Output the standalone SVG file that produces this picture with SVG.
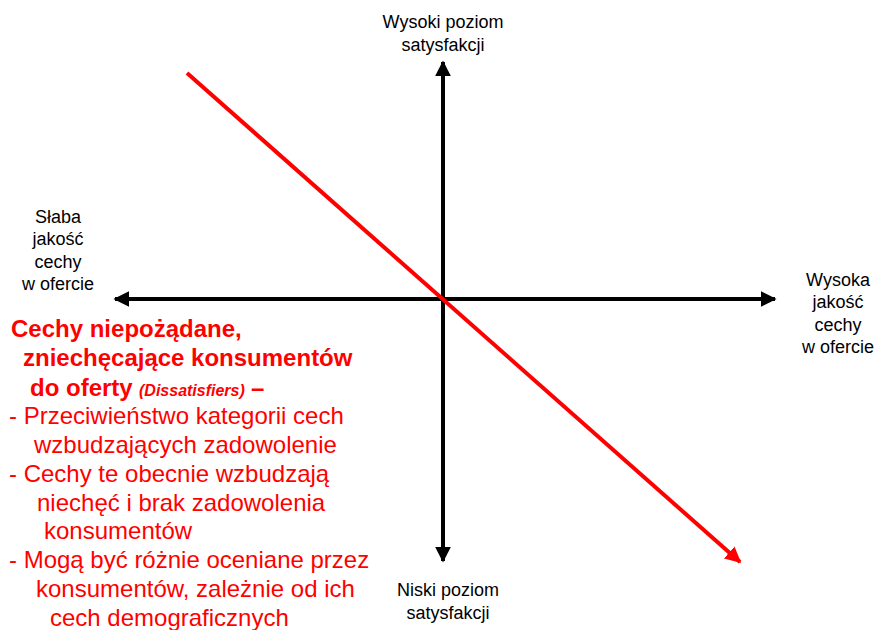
<svg xmlns="http://www.w3.org/2000/svg" width="877" height="630" viewBox="0 0 877 630">
<style>
.lbl{font-family:"Liberation Sans",Arial,sans-serif;font-size:18px;fill:#000;text-anchor:middle}
.r{font-family:"Liberation Sans",Arial,sans-serif;font-size:24px;fill:#ff0000}
.rb{font-weight:bold}
.ax{stroke:#000;stroke-width:4;fill:none}
.red{stroke:#ff0000;stroke-width:4;fill:none}
</style>
<defs>
<marker id="ab" viewBox="0 0 10 10" refX="9" refY="5" markerWidth="4" markerHeight="4" orient="auto" markerUnits="strokeWidth"><path d="M0,0 L10,5 L0,10 z" fill="#000"/></marker>
<marker id="ar" viewBox="0 0 10 10" refX="9" refY="5" markerWidth="4" markerHeight="4" orient="auto" markerUnits="strokeWidth"><path d="M0,0 L10,5 L0,10 z" fill="#ff0000"/></marker>
</defs>
<g id="connectors">
<line class="ax" x1="443" y1="299" x2="443" y2="62" marker-end="url(#ab)"/>
<line class="ax" x1="443" y1="299" x2="443" y2="561" marker-end="url(#ab)"/>
<line class="ax" x1="443" y1="299" x2="115" y2="299" marker-end="url(#ab)"/>
<line class="ax" x1="443" y1="299" x2="775" y2="299" marker-end="url(#ab)"/>
<line class="red" x1="187" y1="73" x2="740" y2="562" marker-end="url(#ar)"/>
</g>
<g id="top-label"><text class="lbl" x="443" y="28">Wysoki poziom</text><text class="lbl" x="443" y="51">satysfakcji</text></g>
<g id="left-label"><text class="lbl" x="58" y="223">Słaba</text><text class="lbl" x="58" y="245">jakość</text><text class="lbl" x="58" y="268">cechy</text><text class="lbl" x="58" y="290">w ofercie</text></g>
<g id="right-label"><text class="lbl" x="838" y="286">Wysoka</text><text class="lbl" x="838" y="308">jakość</text><text class="lbl" x="838" y="331">cechy</text><text class="lbl" x="838" y="353">w ofercie</text></g>
<g id="bottom-label"><text class="lbl" x="448" y="596">Niski poziom</text><text class="lbl" x="448" y="619">satysfakcji</text></g>
<g id="description" class="r">
<text class="r rb" x="11" y="337">Cechy niepożądane,</text>
<text class="r rb" x="23" y="366">zniechęcające konsumentów</text>
<text class="r rb" x="30" y="396">do oferty <tspan x="139" font-size="16" font-style="italic">(Dissatisfiers)</tspan><tspan x="251">–</tspan></text>
<text class="r" x="9" y="424">- Przeciwieństwo kategorii cech</text>
<text class="r" x="34" y="453">wzbudzających zadowolenie</text>
<text class="r" x="9" y="482">- Cechy te obecnie wzbudzają</text>
<text class="r" x="37" y="511">niechęć i brak zadowolenia</text>
<text class="r" x="44" y="539">konsumentów</text>
<text class="r" x="9" y="568">- Mogą być różnie oceniane przez</text>
<text class="r" x="36" y="597">konsumentów, zależnie od ich</text>
<text class="r" x="50" y="626">cech demograficznych</text>
</g>
</svg>
